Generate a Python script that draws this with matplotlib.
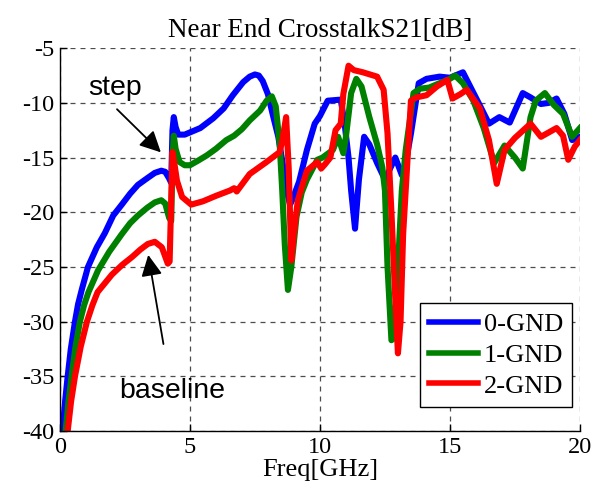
import numpy as np
import matplotlib
matplotlib.use("Agg")
import matplotlib.pyplot as plt

plt.rcParams['axes.unicode_minus'] = False

# 0-GND (blue)
f0 = [0.05, 0.1, 0.2, 0.3, 0.42, 0.58, 0.7, 0.85, 1.08, 1.42, 1.73, 2.05, 2.38, 2.7, 3.0, 3.35, 3.65, 3.9,
      4.05, 4.2, 4.28, 4.33, 4.38, 4.45, 4.55, 4.8, 5.0, 5.4, 5.9, 6.3, 6.65, 7.05, 7.3, 7.5, 7.65, 7.8, 8.0,
      8.2, 8.4, 8.6, 8.75, 8.85, 8.95, 9.2, 9.5, 9.8, 10.0, 10.3, 10.8, 10.95, 11.1, 11.2, 11.35, 11.5, 11.7,
      11.9, 12.2, 12.5, 12.9, 13.15, 13.3, 13.5, 13.8, 14.1, 14.6, 15.0, 15.5, 15.8, 16.1, 16.5, 16.9, 17.3,
      17.8, 18.1, 18.5, 18.8, 19.1, 19.4, 19.7, 20.0]
s0 = [-41, -40, -37.3, -35, -32.5, -30, -28.4, -27, -25, -23.2, -21.9, -20.3, -19.3, -18.3, -17.5, -16.9,
      -16.4, -16.2, -16.3, -16.9, -17.3, -12.5, -11.3, -12.2, -12.9, -12.9, -12.7, -12.3, -11.4, -10.5,
      -9.3, -8.1, -7.6, -7.4, -7.5, -8.0, -9.2, -11.2, -13.1, -16.0, -18.3, -19.3, -18.8, -17.2, -14.3,
      -11.9, -11.2, -9.8, -9.7, -11.9, -15.0, -18.0, -21.5, -17.0, -13.1, -13.8, -15.5, -17.0, -15.0,
      -16.6, -15.5, -12.8, -8.2, -7.8, -7.6, -7.7, -7.2, -8.6, -10.0, -11.9, -11.3, -11.8, -9.1, -9.5,
      -10.1, -10.0, -9.6, -11.0, -13.4, -13.1]

# 1-GND (green)
f1 = [0.1, 0.22, 0.33, 0.45, 0.6, 0.77, 0.93, 1.1, 1.47, 1.9, 2.38, 2.7, 3.0, 3.35, 3.65, 3.9, 4.05, 4.2,
      4.28, 4.33, 4.38, 4.45, 4.6, 4.8, 5.0, 5.3, 5.65, 6.0, 6.4, 6.7, 7.0, 7.3, 7.7, 7.95, 8.15, 8.3, 8.45,
      8.55, 8.65, 8.77, 8.9, 9.1, 9.3, 9.5, 9.9, 10.1, 10.5, 10.7, 10.9, 11.0, 11.2, 11.4, 11.6, 11.9, 12.2,
      12.4, 12.5, 12.6, 12.75, 12.85, 13.0, 13.15, 13.3, 13.6, 13.85, 14.2, 14.6, 15.0, 15.2, 15.5, 15.9,
      16.3, 16.7, 17.1, 17.5, 17.8, 18.1, 18.3, 18.65, 19.0, 19.35, 19.7, 20.0]
s1 = [-41, -40, -37.3, -35, -32.3, -30, -28.5, -27.3, -25.3, -23.6, -22.0, -21.0, -20.3, -19.6, -19.1,
      -18.9, -19.2, -20.5, -20.8, -15.0, -13.0, -14.2, -15.4, -15.7, -15.7, -15.3, -14.8, -14.2, -13.4,
      -13.0, -12.4, -11.6, -10.7, -9.8, -9.4, -10.3, -13.7, -18.0, -23.0, -27.1, -25.0, -20.4, -18.2,
      -17.0, -15.2, -15.0, -14.3, -13.1, -14.6, -13.1, -9.1, -7.8, -8.5, -11.3, -13.8, -15.9, -18.0,
      -25.0, -31.7, -31.5, -25.0, -18.0, -14.3, -9.1, -8.7, -8.6, -8.2, -7.8, -7.5, -8.2, -9.8, -12.3,
      -15.5, -13.9, -15.0, -16.0, -11.3, -9.8, -9.1, -10.2, -11.0, -13.1, -12.3]

# 2-GND (red)
f2 = [0.2, 0.3, 0.43, 0.58, 0.8, 1.04, 1.25, 1.45, 2.0, 2.4, 2.77, 3.1, 3.38, 3.65, 3.92, 4.15, 4.22, 4.28,
      4.33, 4.4, 4.5, 4.7, 5.05, 5.5, 6.0, 6.55, 6.7, 6.8, 7.3, 7.95, 8.45, 8.55, 8.7, 8.8, 8.9, 9.0, 9.15,
      9.5, 9.9, 10.05, 10.2, 10.4, 10.6, 10.8, 10.9, 11.1, 11.3, 11.65, 12.2, 12.45, 12.6, 12.75, 12.9,
      13.0, 13.1, 13.2, 13.35, 13.5, 13.7, 14.1, 14.5, 14.9, 15.1, 15.4, 15.65, 16.15, 16.5, 16.8, 17.1,
      17.5, 18.1, 18.5, 19.1, 19.35, 19.55, 19.8, 20.0]
s2 = [-41, -40, -37.3, -35, -32.3, -30, -28.5, -27.3, -25.7, -24.8, -24.1, -23.4, -22.9, -22.7, -23.2,
      -24.7, -24.5, -19.0, -14.5, -15.5, -17.1, -18.6, -19.3, -19.0, -18.5, -18.0, -17.8, -18.1, -16.5,
      -15.4, -14.5, -13.5, -11.3, -16.0, -24.4, -22.0, -18.9, -16.2, -15.4, -16.0, -15.6, -15.0, -12.5,
      -11.9, -9.2, -6.6, -7.0, -7.2, -7.6, -8.8, -12.8, -20.0, -28.0, -32.9, -30.0, -22.0, -15.9, -9.8,
      -9.5, -9.3, -8.5, -7.9, -9.6, -9.2, -8.8, -10.5, -13.4, -17.4, -14.3, -13.2, -11.9, -13.1, -12.3,
      -13.0, -15.2, -14.0, -13.4]

serif = ['Liberation Serif', 'DejaVu Serif']
sans = ['Liberation Sans', 'DejaVu Sans']

fig = plt.figure(figsize=(5.93, 4.92), dpi=100)
ax = fig.add_axes([0.101, 0.124, 0.877, 0.778])

ax.plot(f0, s0, color="#0000FF", linewidth=4.4, label="0-GND", solid_joinstyle='round')
ax.plot(f1, s1, color="#008000", linewidth=4.4, label="1-GND", solid_joinstyle='round')
ax.plot(f2, s2, color="#FF0000", linewidth=4.4, label="2-GND", solid_joinstyle='round')

ax.set_xlim(0, 20)
ax.set_ylim(-40, -5)
ax.set_xticks([0, 5, 10, 15, 20])
ax.set_yticks([-40, -35, -30, -25, -20, -15, -10, -5])
for lab in ax.get_xticklabels() + ax.get_yticklabels():
    lab.set_family(serif)
    lab.set_fontsize(17.5)
ax.tick_params(direction='in', length=5, width=1, colors='k', pad=4)

ax.grid(True, linestyle=(0, (4, 4)), color='0.3', linewidth=0.9)
ax.spines['top'].set_visible(False)
ax.spines['right'].set_visible(False)
ax.spines['left'].set_linewidth(1.0)
ax.spines['bottom'].set_linewidth(1.0)

ax.set_title("Near End CrosstalkS21[dB]", family=serif, fontsize=19.5, pad=8)
ax.set_xlabel("Freq[GHz]", family=serif, fontsize=19, labelpad=1)

ax.text(1.08, -9.3, "step", family=sans, fontsize=20.5, va='baseline', ha='left')
ax.annotate("", xy=(3.96, -14.7), xytext=(2.12, -10.4),
            arrowprops=dict(arrowstyle='-|>', mutation_scale=32, lw=1.3, color='k'))
ax.text(2.3, -37.0, "baseline", family=sans, fontsize=20.5, va='baseline', ha='left')
ax.annotate("", xy=(3.38, -23.65), xytext=(4.0, -32.3),
            arrowprops=dict(arrowstyle='-|>', mutation_scale=32, lw=1.3, color='k'))

leg = ax.legend(loc='lower right', bbox_to_anchor=(0.985, 0.063), prop={'family': serif, 'size': 19},
                fancybox=False, edgecolor='k', framealpha=1, handlelength=1.85, handletextpad=0.2,
                labelspacing=0.28, borderpad=0.35, borderaxespad=0)
leg.get_frame().set_linewidth(1.0)
for h in leg.get_lines():
    h.set_linewidth(4.0)

fig.savefig("out.png", dpi=100)
